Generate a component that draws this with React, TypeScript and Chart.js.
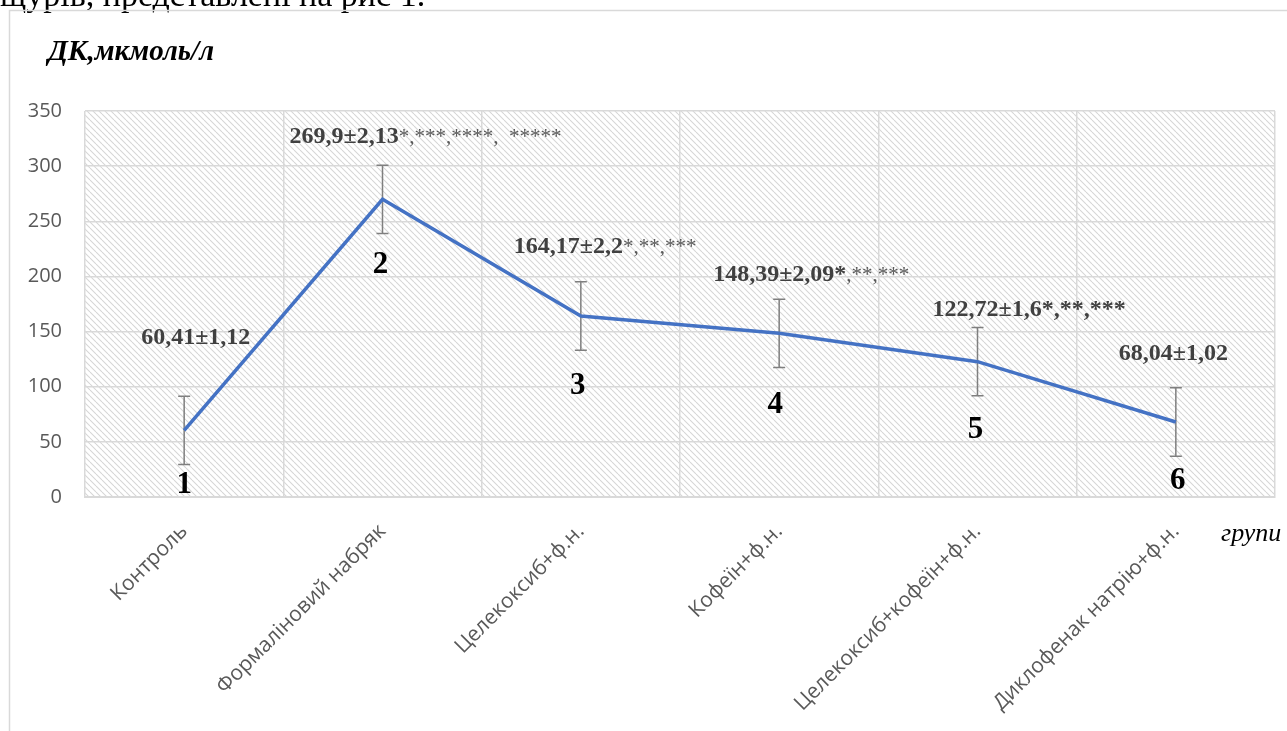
import React, { useEffect, useRef } from "react";
import { Chart, registerables } from "chart.js";

Chart.register(...registerables);

const categories = [
  "Контроль",
  "Формаліновий набряк",
  "Целекоксиб+ф.н.",
  "Кофеїн+ф.н.",
  "Целекоксиб+кофеїн+ф.н.",
  "Диклофенак натрію+ф.н.",
];
const values = [60.41, 269.9, 164.17, 148.39, 122.72, 68.04];
const errors = [31, 31, 31, 31, 31, 31];
const valueLabels = [
  "60,41±1,12",
  "269,9±2,13",
  "164,17±2,2",
  "148,39±2,09*",
  "122,72±1,6*,**,***",
  "68,04±1,02",
];
const starLabels = ["", "*,***,****,  *****", "*,**,***", ",**,***", "", ""];
const groupNumbers = ["1", "2", "3", "4", "5", "6"];
const yMin = 0;
const yMax = 350;
const yStep = 50;
const yTitle = "ДК,мкмоль/л";
const xTitle = "групи";
const topText = "щурів, представлені на рис 1.";

// pixel offsets of annotations relative to their points (styles, not data)
const labelDx = [-43, -93, -67, -66, -45, -57];
const labelDy = [-94, -64, -71, -60, -54, -70];
const numberDy = [55, 66, 70, 72, 68, 59];
const numberDx = [0, -2, -3, -4, -2, 2];

function makePattern(ctx: CanvasRenderingContext2D) {
  const pc = document.createElement("canvas");
  pc.width = 6;
  pc.height = 6;
  const p = pc.getContext("2d")!;
  p.fillStyle = "#ffffff";
  p.fillRect(0, 0, 6, 6);
  p.strokeStyle = "#d6d6d6";
  p.lineWidth = 1.1;
  for (const k of [-6, 0, 6]) {
    p.beginPath();
    p.moveTo(k, 0);
    p.lineTo(k + 6, 6);
    p.stroke();
  }
  return ctx.createPattern(pc, "repeat");
}

const backgroundPlugin = {
  id: "bgHatch",
  beforeDraw(chart: any) {
    const { ctx, chartArea: a, width, height } = chart;
    ctx.save();
    ctx.fillStyle = "#ffffff";
    ctx.fillRect(0, 0, width, height);
    // page text cut off above the chart
    ctx.fillStyle = "#000000";
    ctx.font = '34px "Liberation Serif"';
    ctx.textAlign = "left";
    ctx.textBaseline = "alphabetic";
    ctx.fillText(topText, 0, 6);
    // frame
    ctx.strokeStyle = "#d9d9d9";
    ctx.lineWidth = 1.5;
    ctx.strokeRect(9.5, 10.5, width + 20, height + 20);
    // hatch
    const pat = makePattern(ctx);
    if (pat) {
      ctx.fillStyle = pat;
      ctx.fillRect(a.left, a.top, a.right - a.left, a.bottom - a.top);
    }
    // titles
    ctx.fillStyle = "#000000";
    ctx.font = 'italic bold 29px "Liberation Serif"';
    ctx.textBaseline = "middle";
    ctx.fillText(yTitle, 48, 53);
    ctx.font = 'italic 26px "Liberation Serif"';
    ctx.fillText(xTitle, 1221, 534);
    ctx.restore();
  },
};

const errorBarPlugin = {
  id: "errBars",
  beforeDatasetsDraw(chart: any) {
    const { ctx, scales } = chart;
    const meta = chart.getDatasetMeta(0);
    ctx.save();
    ctx.strokeStyle = "#7f7f7f";
    ctx.lineWidth = 1.5;
    meta.data.forEach((pt: any, i: number) => {
      const x = pt.x;
      const yTop = scales.y.getPixelForValue(values[i] + errors[i]);
      const yBot = scales.y.getPixelForValue(values[i] - errors[i]);
      ctx.beginPath();
      ctx.moveTo(x, yTop);
      ctx.lineTo(x, yBot);
      ctx.moveTo(x - 6, yTop);
      ctx.lineTo(x + 6, yTop);
      ctx.moveTo(x - 6, yBot);
      ctx.lineTo(x + 6, yBot);
      ctx.stroke();
    });
    ctx.restore();
  },
};

const labelPlugin = {
  id: "labels",
  afterDatasetsDraw(chart: any) {
    const { ctx } = chart;
    const meta = chart.getDatasetMeta(0);
    ctx.save();
    ctx.textBaseline = "alphabetic";
    ctx.textAlign = "left";
    meta.data.forEach((pt: any, i: number) => {
      const x = pt.x + labelDx[i];
      const y = pt.y + labelDy[i] + 8;
      ctx.font = 'bold 24px "Liberation Serif"';
      ctx.fillStyle = "#404040";
      ctx.fillText(valueLabels[i], x, y);
      const w = ctx.measureText(valueLabels[i]).width;
      if (starLabels[i]) {
        ctx.font = '21px "Liberation Serif"';
        ctx.fillStyle = "#595959";
        ctx.fillText(starLabels[i], x + w, y);
      }
    });
    ctx.textAlign = "center";
    ctx.textBaseline = "middle";
    ctx.font = 'bold 31px "Liberation Serif"';
    ctx.fillStyle = "#000000";
    meta.data.forEach((pt: any, i: number) => {
      ctx.fillText(groupNumbers[i], pt.x + numberDx[i], pt.y + numberDy[i]);
    });
    ctx.restore();
  },
};

export default function App() {
  const ref = useRef<HTMLCanvasElement>(null);
  useEffect(() => {
    if (!ref.current) return;
    const chart = new Chart(ref.current, {
      type: "line",
      data: {
        labels: categories,
        datasets: [
          {
            data: values,
            borderColor: "#4472c4",
            borderWidth: 3.5,
            pointRadius: 0,
            tension: 0,
            fill: false,
          },
        ],
      },
      options: {
        animation: false,
        responsive: false,
        devicePixelRatio: 1,
        layout: { padding: { left: 0, top: 111, right: 12, bottom: 0 } },
        plugins: {
          legend: { display: false },
          tooltip: { enabled: false },
        },
        scales: {
          x: {
            offset: true,
            grid: { offset: true, color: "#d9d9d9", lineWidth: 1.5, drawTicks: false },
            border: { display: true, color: "#d9d9d9", width: 2 },
            ticks: {
              minRotation: 45,
              maxRotation: 45,
              autoSkip: false,
              padding: 22,
              color: "#595959",
              font: { family: '"Open Sans"', size: 21 },
            },
            afterFit: (s: any) => {
              s.height = 234;
            },
          },
          y: {
            min: yMin,
            max: yMax,
            grid: { color: "#d9d9d9", lineWidth: 1.5, drawTicks: false },
            border: { display: false },
            ticks: {
              stepSize: yStep,
              padding: 23,
              color: "#595959",
              font: { family: '"Open Sans"', size: 20 },
            },
            afterFit: (s: any) => {
              s.width = 85;
            },
          },
        },
      },
      plugins: [backgroundPlugin, errorBarPlugin, labelPlugin],
    });
    return () => chart.destroy();
  }, []);
  return (
    <div style={{ position: "absolute", left: 0, top: 0, width: 1287, height: 731 }}>
      <canvas ref={ref} width={1287} height={731} style={{ display: "block" }} />
    </div>
  );
}
